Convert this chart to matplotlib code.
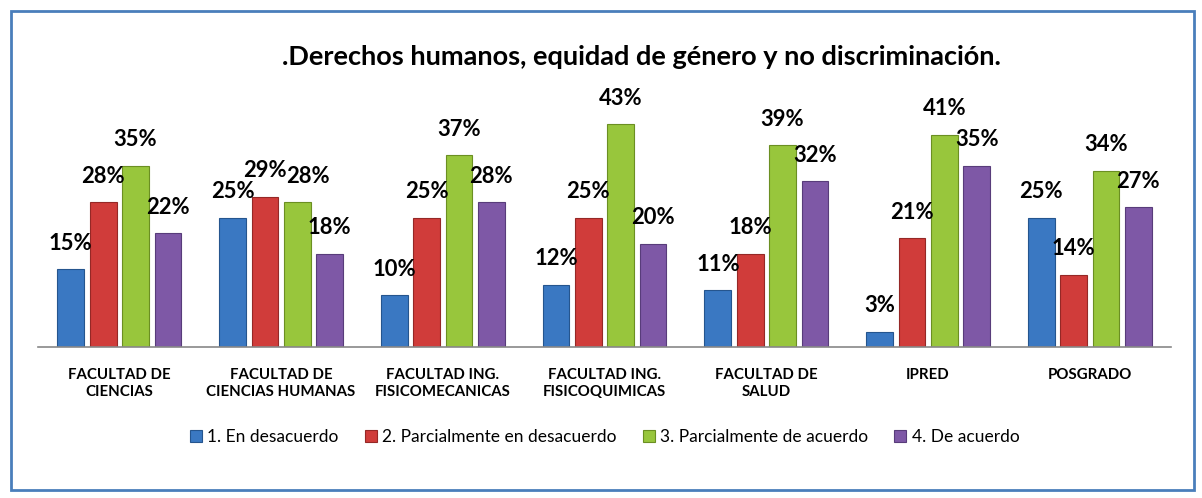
import matplotlib.pyplot as plt
import matplotlib.patches as mpatches
import numpy as np

plt.rcParams['font.family'] = ['Lato', 'DejaVu Sans']

# Chart data
categories = ['FACULTAD DE\nCIENCIAS', 'FACULTAD DE\nCIENCIAS HUMANAS', 'FACULTAD ING.\nFISICOMECANICAS',
              'FACULTAD ING.\nFISICOQUIMICAS', 'FACULTAD DE\nSALUD', 'IPRED', 'POSGRADO']
series_names = ['1. En desacuerdo', '2. Parcialmente en desacuerdo',
                '3. Parcialmente de acuerdo', '4. De acuerdo']
desacuerdo = [15, 25, 10, 12, 11, 3, 25]
parcial_desacuerdo = [28, 29, 25, 25, 18, 21, 14]
parcial_acuerdo = [35, 28, 37, 43, 39, 41, 34]
de_acuerdo = [22, 18, 28, 20, 32, 35, 27]

colors = ['#3a78c2', '#d03c3a', '#98c63c', '#7e58a6']
edges = ['#25558e', '#952826', '#6b8f22', '#583c7a']

fig = plt.figure(figsize=(12.02, 4.98), dpi=100)

# outer frame
fig.patches.append(mpatches.Rectangle((0.009, 0.016), 0.984, 0.962, transform=fig.transFigure,
                                      fill=False, edgecolor='#4a7ebb', linewidth=2))

ax = fig.add_axes([0.032, 0.303, 0.942, 0.52])
x = np.arange(len(categories))
width = 0.165
step = 0.2
all_series = [desacuerdo, parcial_desacuerdo, parcial_acuerdo, de_acuerdo]

for i, vals in enumerate(all_series):
    pos = x + (i - 1.5) * step
    bars = ax.bar(pos, vals, width, color=colors[i], edgecolor=edges[i], linewidth=0.8,
                  label=series_names[i])
    for j, (b, v) in enumerate(zip(bars, vals)):
        # push a label sideways when the neighbour's label sits at about the same height
        dx = 0
        if i > 0 and abs(all_series[i - 1][j] - v) < 3:
            dx = 8
        ax.annotate(f'{v}%', (b.get_x() + b.get_width() / 2, v + 3.0), xytext=(dx, 0),
                    textcoords='offset points', ha='center', va='bottom',
                    fontsize=15.8, fontweight='bold', color='black')

ax.set_xlim(-0.5, len(categories) - 0.5)
ax.set_ylim(0, 50)
ax.set_yticks([])
ax.set_xticks(x)
ax.set_xticklabels(categories, fontsize=10.8, fontweight='bold', linespacing=1.25)
ax.tick_params(axis='x', length=0, pad=15)
for s in ['top', 'right', 'left']:
    ax.spines[s].set_visible(False)
ax.spines['bottom'].set_color('#888888')
ax.spines['bottom'].set_linewidth(1.2)

fig.text(0.534, 0.885, '.Derechos humanos, equidad de género y no discriminación.',
         ha='center', va='center', fontsize=19.5, fontweight='bold')

fig.legend(loc='center', bbox_to_anchor=(0.503, 0.122), ncol=4, frameon=False, fontsize=12.5,
           handlelength=0.7, handleheight=0.7, handletextpad=0.3, columnspacing=1.5)

plt.savefig('out.png', dpi=100)
